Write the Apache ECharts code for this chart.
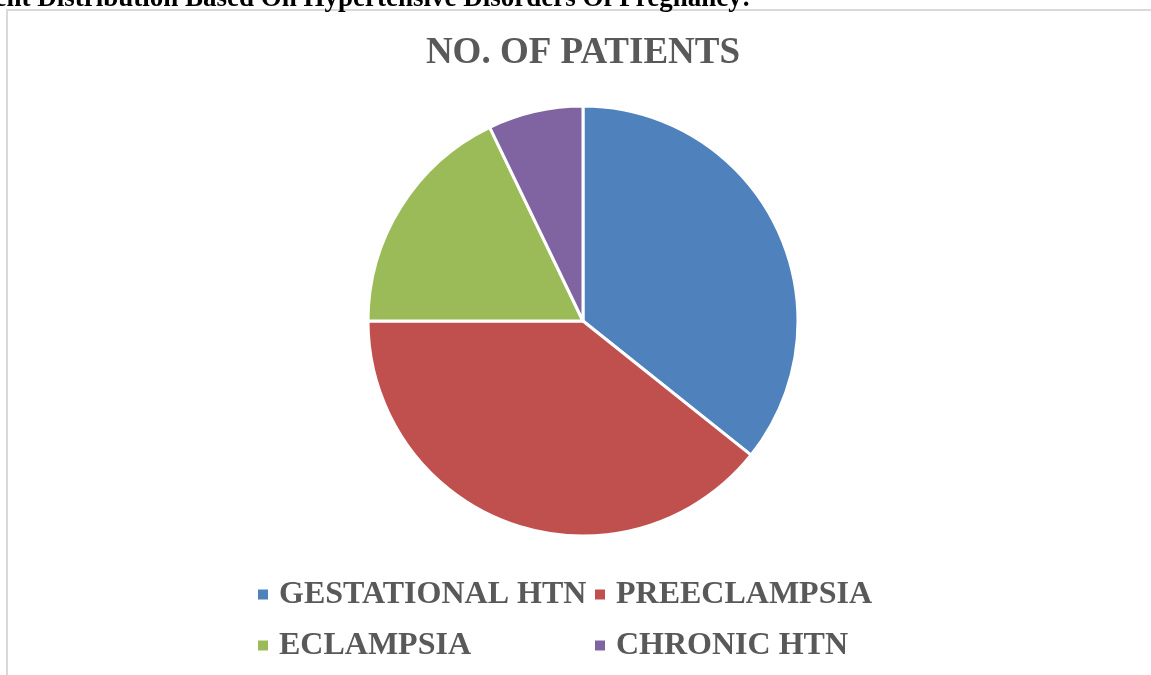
<!DOCTYPE html>
<html>
<head>
<meta charset="utf-8">
<script src="https://cdn.jsdelivr.net/npm/echarts@6/dist/echarts.min.js"></script>
<style>
  html, body { margin: 0; padding: 0; background: #ffffff; }
  #chart { width: 1151px; height: 675px; }
</style>
</head>
<body>
<div id="chart"></div>
<script>
// Patient counts by hypertensive disorder of pregnancy
const categories = ['GESTATIONAL HTN', 'PREECLAMPSIA', 'ECLAMPSIA', 'CHRONIC HTN'];
const patients = [20, 22, 10, 4];
const colors = ['#4F81BD', '#C0504D', '#9BBB59', '#8064A2'];
const chartTitle = 'NO. OF PATIENTS';
const heading = 'Patient Distribution Based On Hypertensive Disorders Of Pregnancy:';

const serif = '"Liberation Serif", "Times New Roman", serif';
const chart = echarts.init(document.getElementById('chart'), null, { renderer: 'canvas' });

chart.setOption({
  backgroundColor: '#ffffff',
  animation: false,
  color: colors,
  title: {
    text: chartTitle,
    left: 583,
    top: 35,
    padding: 0,
    textAlign: 'center',
    textStyle: { fontFamily: serif, fontWeight: 'bold', fontSize: 37, color: '#595959', lineHeight: 37 }
  },
  legend: {
    left: 256,
    top: 569,
    width: 690,
    padding: 0,
    orient: 'horizontal',
    itemGap: 0,
    itemWidth: 12,
    itemHeight: 12,
    icon: 'rect',
    data: categories,
    textStyle: {
      fontFamily: serif, fontWeight: 'bold', fontSize: 32, color: '#595959',
      width: 314, lineHeight: 51, padding: [0, 0, 0, 5]
    }
  },
  graphic: [
    // chart frame (light grey, open to the right and bottom edges of the page)
    {
      type: 'rect',
      silent: true,
      shape: { x: 7, y: 10, width: 1200, height: 700 },
      style: { fill: 'none', stroke: '#d9d9d9', lineWidth: 2 }
    },
    // caption line running above the frame
    {
      type: 'text',
      silent: true,
      x: -52,
      y: -14,
      style: {
        text: heading,
        fontFamily: serif, fontWeight: 'bold', fontSize: 27, fill: '#000000',
        verticalAlign: 'top'
      }
    }
  ],
  series: [{
    type: 'pie',
    center: [583, 321],
    radius: 215,
    startAngle: 90,
    clockwise: true,
    label: { show: false },
    labelLine: { show: false },
    itemStyle: { borderColor: '#ffffff', borderWidth: 3 },
    emphasis: { disabled: true },
    data: categories.map((name, i) => ({ name, value: patients[i] }))
  }]
});
</script>
</body>
</html>
